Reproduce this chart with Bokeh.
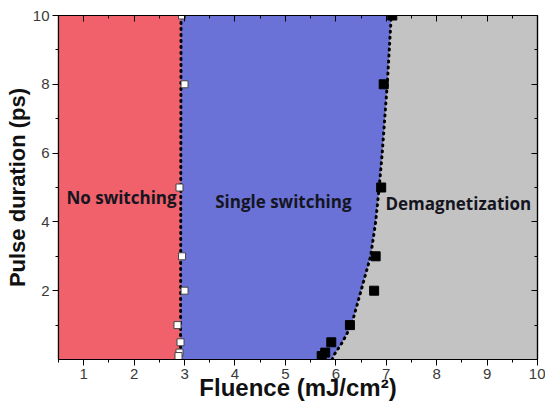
from bokeh.plotting import figure
from bokeh.models import LinearAxis, FixedTicker, Label
from bokeh.embed import file_html
from bokeh.resources import INLINE

# Boundary between "No switching" and "Single switching" (dotted line)
left_bound_y = [0, 10]
left_bound_x = [2.92, 2.93]

# Boundary between "Single switching" and "Demagnetization" (dotted fit curve)
right_bound_y = [0, 0.12, 0.5, 1, 2, 3, 4, 5, 6, 8, 10]
right_bound_x = [5.93, 5.96, 6.13, 6.31, 6.50, 6.69, 6.79, 6.86, 6.92, 7.02, 7.10]

# Measured thresholds: switching onset (open squares)
sw_pulse = [10, 8, 5, 3, 2, 1, 0.5, 0.2, 0.1]
sw_fluence = [2.95, 3.0, 2.9, 2.95, 3.0, 2.86, 2.92, 2.9, 2.88]

# Measured thresholds: demagnetization onset (filled squares)
dm_pulse = [10, 8, 5, 3, 2, 1, 0.5, 0.2, 0.1]
dm_fluence = [7.12, 6.95, 6.9, 6.79, 6.76, 6.28, 5.91, 5.79, 5.72]

x_ticks = [1, 2, 3, 4, 5, 6, 7, 8, 9, 10]
x_minor = [0.5, 1.5, 2.5, 3.5, 4.5, 5.5, 6.5, 7.5, 8.5, 9.5]
y_ticks = [2, 4, 6, 8, 10]
y_minor = [1, 3, 5, 7, 9]

region_labels = ["No switching", "Single switching", "Demagnetization"]
region_x = [1.75, 4.96, 8.43]
region_y = [4.71, 4.59, 4.53]

RED = "#F0616B"
BLUE = "#6A72D8"
GRAY = "#C3C3C3"

p = figure(width=545, height=404, x_range=(0.5, 10), y_range=(0, 10),
           output_backend="svg", toolbar_location=None,
           background_fill_color=GRAY, border_fill_color="white")
p.min_border_left = 58
p.min_border_right = 8
p.min_border_top = 15
p.min_border_bottom = 45
p.grid.visible = False
p.outline_line_color = "black"
p.outline_line_width = 1.2

# Regions
p.harea(y=right_bound_y, x1=[0.5] * len(right_bound_y), x2=right_bound_x,
        fill_color=BLUE, fill_alpha=1)
p.harea(y=left_bound_y, x1=[0.5] * len(left_bound_y), x2=left_bound_x,
        fill_color=RED, fill_alpha=1)

# Dotted boundaries
p.line(left_bound_x, left_bound_y, line_color="black", line_width=3,
       line_dash="1 5", line_cap="round")
p.line(right_bound_x, right_bound_y, line_color="black", line_width=3,
       line_dash="1 5", line_cap="round")

# Points
p.scatter(sw_fluence, sw_pulse, marker="square", size=7, fill_color="white",
          line_color="#444444", line_width=1)
p.scatter(dm_fluence, dm_pulse, marker="square", size=9, fill_color="black",
          line_color="black")

# Region labels
for t, x, y in zip(region_labels, region_x, region_y):
    p.add_layout(Label(x=x, y=y, text=t, text_align="center",
                       text_baseline="middle", text_font="Open Sans",
                       text_font_style="bold", text_font_size="17px",
                       text_color="#15151f"))

# Axes styling
def style_axis(ax, outward=True, labels=True):
    ax.axis_line_color = "black"
    ax.axis_line_width = 1.2
    ax.major_tick_line_color = "black"
    ax.minor_tick_line_color = "black"
    if outward:
        ax.major_tick_out = 6
        ax.major_tick_in = 0
        ax.minor_tick_out = 3
        ax.minor_tick_in = 0
    else:
        ax.major_tick_out = 0
        ax.major_tick_in = 6
        ax.minor_tick_out = 0
        ax.minor_tick_in = 3
    if not labels:
        ax.major_label_text_font_size = "0px"
        ax.major_label_text_color = None
    else:
        ax.major_label_text_font = "Liberation Sans"
        ax.major_label_text_font_size = "15px"
        ax.major_label_text_color = "#3a3a3a"
        ax.major_label_standoff = 3

xt = FixedTicker(ticks=x_ticks, minor_ticks=x_minor)
yt = FixedTicker(ticks=y_ticks, minor_ticks=y_minor)

p.xaxis.ticker = xt
p.yaxis.ticker = yt
style_axis(p.xaxis[0])
style_axis(p.yaxis[0])
p.xaxis.axis_label = "Fluence (mJ/cm²)"
p.yaxis.axis_label = "Pulse duration (ps)"
for ax in (p.xaxis[0], p.yaxis[0]):
    ax.axis_label_text_font = "Liberation Sans"
    ax.axis_label_text_font_style = "bold"
    ax.axis_label_text_color = "#111111"
p.xaxis[0].axis_label_text_font_size = "24px"
p.yaxis[0].axis_label_text_font_size = "22px"
p.xaxis[0].axis_label_standoff = -8
p.yaxis[0].axis_label_standoff = 0

top = LinearAxis(ticker=FixedTicker(ticks=x_ticks, minor_ticks=x_minor))
style_axis(top, outward=False, labels=False)
p.add_layout(top, "above")
right = LinearAxis(ticker=FixedTicker(ticks=y_ticks, minor_ticks=y_minor))
style_axis(right, outward=False, labels=False)
p.add_layout(right, "right")

open("out.html", "w").write(file_html(p, INLINE))
